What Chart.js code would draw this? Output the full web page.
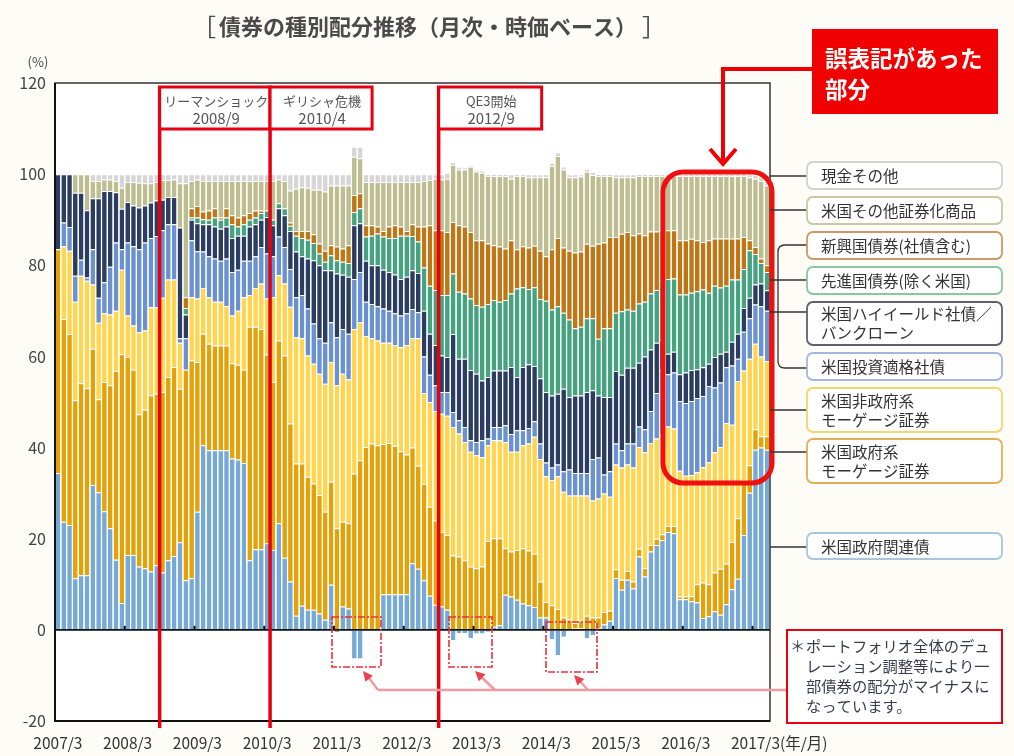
<!DOCTYPE html>
<html lang="ja">
<head>
<meta charset="utf-8">
<title>債券の種別配分推移</title>
<script src="https://cdn.jsdelivr.net/npm/chart.js@4.4.1/dist/chart.umd.min.js"></script>
<style>
  html, body { margin: 0; padding: 0; background: #fdfcf6; }
  canvas { display: block; }
</style>
</head>
<body>
<canvas id="bondChart" width="1014" height="756"></canvas>
<script>
    // 月次の横軸 (2007/3 〜 2017/5)
    const startYear = 2007;
    const startMonth = 3;
    const monthCount = 123;
    const months = [];
    for (let i = 0; i < monthCount; i++) {
      const m = startMonth - 1 + i;
      months.push((startYear + Math.floor(m / 12)) + '/' + (m % 12 + 1));
    }

    // 各資産の帯の上端 (%)、下から順に積み上げた値を図から読み取ったもの
    // 米国政府関連債
    const topGovRelated = [
      34.4, 23.7, 23.0, 11.3, 12.0, 12.0, 31.8, 30.2, 26.0, 22.3,
      15.4, 5.9, 16.4, 16.4, 13.9, 13.5, 12.8, 14.2, 12.6, 15.3,
      16.2, 19.2, 10.9, 11.3, 25.9, 40.5, 39.4, 39.4, 39.4, 39.4,
      37.6, 37.4, 36.6, 15.3, 17.7, 17.7, 19.0, 17.5, 23.4, 15.8,
      10.6, 3.1, 5.3, 4.4, 4.4, 3.6, 2.2, 9.9, -0.5, 5.1,
      4.7, -6.3, -6.3, 0, 0, 0, 7.8, 7.8, 7.8, 7.8,
      7.8, 14.6, 13.4, 10.9, 7.5, 5.5, 5.1, 4.4, -2.2, -0.7,
      -0.7, -1.8, -0.8, -0.8, -0.4, 0.7, 1.0, 7.7, 7.3, 6.6,
      5.8, 5.4, 5.0, 2.7, 2.7, -2.0, -5.5, -1.5, 0, 0.3,
      0.3, -1.8, -1.2, 0.3, 1.2, 2.0, 11.4, 8.8, 11.0, 9.1,
      16.1, 11.7, 17.2, 18.6, 19.7, 21.5, 21.2, 6.7, 6.7, 6.3,
      6.0, 2.6, 3.0, 4.1, 3.3, 5.6, 8.9, 11.2, 20.8, 30.1,
      39.5, 40.0, 39.5
    ];
    // 米国政府系モーゲージ証券
    const topAgencyMbs = [
      83.5, 68.2, 64.9, 50.4, 54.1, 53.0, 61.7, 50.6, 54.4, 53.7,
      56.8, 60.5, 59.9, 57.1, 47.3, 48.3, 51.5, 51.8, 52.2, 55.5,
      57.7, 52.9, 57.1, 59.1, 58.8, 65.0, 62.8, 62.4, 62.4, 62.4,
      58.5, 58.2, 57.1, 66.5, 66.5, 66.0, 60.4, 54.4, 63.5, 60.2,
      45.3, 36.5, 36.5, 33.6, 32.1, 29.6, 25.9, 32.5, 22.3, 23.7,
      23.4, 34.3, 37.2, 40.1, 40.9, 40.5, 40.8, 41.0, 40.4, 39.2,
      38.5, 40.0, 36.0, 32.0, 27.0, 24.0, 21.5, 20.8, 16.3, 16.1,
      15.3, 13.9, 13.5, 13.9, 19.5, 20.1, 20.1, 17.9, 17.2, 17.5,
      17.9, 17.4, 16.7, 10.6, 6.1, 5.4, 4.6, 2.7, 2.3, 1.5,
      2.0, 3.1, 2.7, 2.7, 3.9, 4.2, 13.3, 11.0, 12.9, 10.6,
      17.8, 13.5, 18.6, 20.0, 21.0, 22.8, 22.8, 7.3, 7.4, 7.4,
      10.0, 10.4, 10.0, 12.6, 13.4, 14.5, 19.3, 24.5, 32.7, 36.1,
      44.0, 42.5, 42.5
    ];
    // 米国非政府系モーゲージ証券
    const topNonAgencyMbs = [
      83.5, 84.2, 83.2, 72.0, 77.7, 76.6, 75.8, 67.4, 69.5, 69.2,
      70.0, 79.0, 69.0, 66.8, 65.3, 65.7, 70.8, 70.8, 72.9, 76.9,
      76.9, 63.0, 57.1, 73.0, 72.7, 75.0, 73.0, 72.0, 72.0, 71.0,
      69.0, 70.0, 73.0, 73.5, 75.0, 76.0, 72.7, 73.0, 77.8, 76.0,
      70.9, 64.2, 64.0, 60.2, 58.4, 56.2, 54.0, 58.8, 53.7, 56.2,
      55.0, 66.0, 67.5, 64.5, 64.0, 63.5, 63.0, 63.0, 62.5, 62.0,
      62.5, 64.0, 64.0, 52.0, 50.0, 48.0, 47.4, 47.0, 44.5, 43.1,
      41.2, 39.1, 38.3, 37.9, 40.5, 41.6, 41.6, 41.2, 39.1, 39.1,
      40.5, 40.9, 42.4, 37.5, 33.7, 32.9, 33.7, 30.3, 29.5, 29.5,
      29.5, 29.5, 28.4, 28.8, 29.9, 29.2, 36.3, 35.6, 36.3, 35.6,
      40.1, 39.0, 41.0, 42.0, 43.0, 44.6, 44.2, 34.9, 33.8, 34.0,
      34.6, 35.7, 36.8, 39.0, 40.1, 45.4, 45.0, 54.6, 56.9, 59.5,
      62.8, 60.0, 59.0
    ];
    // 米国投資適格社債
    const topIgCorp = [
      83.5, 89.4, 88.4, 77.7, 81.2, 77.3, 83.5, 72.9, 76.3, 79.7,
      85.0, 83.5, 85.0, 84.2, 83.5, 85.0, 86.0, 86.4, 87.7, 89.0,
      89.0, 64.0, 64.0, 85.5, 83.1, 83.0, 82.0, 81.5, 81.0, 81.5,
      78.5, 79.0, 81.0, 81.0, 82.0, 84.0, 82.6, 82.0, 86.3, 84.0,
      79.2, 73.0, 73.5, 70.5, 67.2, 64.0, 63.0, 67.5, 64.2, 66.0,
      65.0, 77.0, 78.5, 72.0, 71.5, 71.0, 70.5, 70.0, 69.5, 69.0,
      69.5, 70.4, 69.7, 60.0, 56.0, 53.7, 52.2, 52.2, 47.8, 46.0,
      44.5, 41.6, 41.2, 41.6, 42.0, 44.5, 44.5, 44.9, 43.0, 43.8,
      43.8, 44.3, 45.8, 40.9, 36.7, 35.6, 36.3, 34.8, 35.2, 34.4,
      34.4, 34.4, 37.5, 37.8, 34.1, 34.8, 40.9, 39.4, 40.9, 40.9,
      44.6, 44.0, 48.0, 52.0, 57.0, 56.1, 56.5, 50.2, 49.8, 50.2,
      50.9, 51.3, 53.5, 53.2, 54.3, 57.6, 58.0, 59.5, 65.4, 68.4,
      71.4, 71.0, 70.0
    ];
    // 米国ハイイールド社債／バンクローン
    const topHighYield = [
      100, 100, 100, 95.9, 95.9, 92.1, 94.7, 94.7, 96.3, 96.3,
      96.0, 92.4, 93.9, 93.1, 92.7, 93.1, 93.8, 94.2, 94.4, 95.0,
      95.0, 88.3, 69.2, 90.0, 89.2, 89.0, 89.0, 88.5, 88.0, 88.5,
      86.0, 86.5, 86.5, 88.5, 89.0, 90.0, 90.6, 88.8, 92.5, 91.0,
      87.5, 83.0, 82.0, 81.5, 81.1, 80.0, 78.9, 78.9, 78.2, 77.9,
      77.5, 88.8, 89.2, 81.0, 80.0, 80.0, 79.0, 78.5, 78.0, 77.0,
      77.5, 78.9, 78.3, 70.0, 65.0, 62.5, 60.2, 59.9, 64.9, 59.5,
      59.5, 57.0, 56.2, 54.7, 55.5, 56.9, 56.9, 56.9, 57.7, 55.5,
      57.7, 58.3, 57.9, 55.2, 52.2, 51.4, 51.8, 52.9, 51.1, 51.4,
      51.4, 52.2, 52.6, 51.4, 51.1, 51.1, 56.8, 56.0, 57.5, 57.5,
      58.6, 60.0, 61.5, 63.0, 63.5, 60.6, 61.0, 56.1, 56.5, 57.0,
      57.2, 57.6, 58.4, 59.9, 60.6, 61.0, 63.2, 65.0, 70.6, 72.9,
      75.8, 76.0, 74.5
    ];
    // 先進国債券(除く米国)
    const topDeveloped = [
      100, 100, 100, 95.9, 95.9, 92.1, 94.7, 94.7, 96.3, 96.3,
      96.0, 92.4, 93.9, 93.1, 92.7, 93.1, 93.8, 94.2, 94.4, 95.0,
      95.0, 88.3, 70.6, 90.5, 90.5, 90.1, 90.0, 90.5, 90.0, 90.5,
      89.0, 88.5, 89.0, 90.0, 90.5, 91.5, 92.0, 90.0, 93.6, 92.5,
      88.7, 86.5, 86.0, 85.6, 84.9, 82.6, 80.8, 82.2, 81.1, 80.8,
      80.5, 91.7, 92.5, 86.3, 86.5, 87.0, 86.3, 86.0, 86.0, 86.5,
      86.5, 86.4, 85.2, 79.5, 75.5, 74.6, 73.5, 73.5, 78.2, 74.2,
      73.8, 72.7, 71.3, 70.9, 71.5, 72.4, 72.0, 72.4, 73.8, 74.9,
      75.2, 74.8, 75.2, 72.6, 72.2, 70.3, 71.0, 69.6, 68.1, 66.2,
      66.5, 68.4, 68.4, 63.9, 66.2, 66.2, 69.6, 69.9, 70.3, 70.0,
      71.6, 72.0, 73.8, 74.6, 76.8, 77.0, 77.1, 73.6, 73.6, 74.0,
      74.3, 74.7, 74.0, 75.5, 75.1, 75.5, 76.9, 76.9, 79.2, 83.3,
      82.5, 80.5, 78.5
    ];
    // 新興国債券(社債含む)
    const topEmerging = [
      100, 100, 100, 95.9, 95.9, 92.1, 94.7, 94.7, 96.3, 96.3,
      96.0, 92.4, 93.9, 93.1, 92.7, 93.1, 93.8, 94.2, 94.4, 95.0,
      95.0, 88.3, 73.0, 92.5, 93.0, 91.8, 92.0, 92.5, 90.5, 92.5,
      91.0, 90.5, 91.0, 91.5, 92.0, 92.0, 92.0, 90.0, 93.6, 92.5,
      89.4, 87.5, 87.5, 87.5, 86.8, 84.8, 83.2, 84.4, 84.1, 83.7,
      84.4, 95.4, 95.8, 88.8, 88.8, 88.5, 87.5, 88.5, 88.8, 88.5,
      87.5, 89.0, 88.5, 88.5, 88.8, 87.7, 87.7, 87.3, 89.5, 88.8,
      88.5, 87.3, 85.5, 85.5, 84.8, 84.4, 84.1, 83.7, 85.5, 83.5,
      84.2, 83.9, 84.3, 83.2, 82.0, 83.5, 86.0, 83.9, 83.2, 82.8,
      83.0, 84.7, 84.3, 84.7, 85.0, 86.2, 86.2, 86.9, 87.3, 86.6,
      87.0, 86.6, 87.4, 87.4, 87.7, 87.7, 87.7, 85.5, 85.5, 85.8,
      85.5, 85.1, 85.5, 85.9, 85.9, 85.9, 85.9, 85.9, 86.2, 85.5,
      84.0, 81.5, 80.0
    ];
    // 米国その他証券化商品
    const topOtherAbs = [
      100, 100, 100, 100, 100, 100, 98.5, 98.5, 98.8, 98.8,
      98.5, 97.0, 98.3, 98.3, 98.1, 98.0, 98.0, 98.3, 98.7, 98.7,
      98.8, 98.0, 98.0, 98.5, 98.8, 98.5, 98.5, 98.5, 98.5, 98.5,
      98.5, 98.5, 98.5, 98.5, 98.5, 98.5, 98.5, 98.5, 98.8, 98.5,
      96.4, 96.8, 97.1, 97.0, 96.6, 96.6, 96.2, 97.5, 97.5, 97.5,
      97.5, 103.8, 103.5, 98.3, 98.3, 98.3, 98.3, 98.3, 98.3, 98.3,
      98.3, 98.3, 98.3, 98.5, 98.7, 99.0, 98.8, 99.0, 102.0, 101.0,
      101.0, 101.6, 100.6, 100.3, 99.6, 99.6, 99.6, 99.6, 99.0, 99.6,
      99.6, 99.3, 99.3, 99.3, 99.3, 101.8, 104.0, 101.0, 99.3, 99.3,
      99.5, 100.5, 99.8, 99.6, 99.6, 99.6, 99.3, 99.3, 99.3, 99.3,
      99.6, 99.6, 99.6, 99.6, 99.6, 99.6, 99.6, 99.6, 99.6, 99.6,
      99.6, 99.6, 99.6, 99.6, 99.6, 99.6, 99.6, 99.6, 99.6, 99.3,
      99.0, 98.5, 97.5
    ];
    // 現金その他
    const topCash = [
      100, 100, 100, 100, 100, 100, 100, 100, 100, 100,
      100, 100, 100, 100, 100, 100, 100, 100, 100, 100,
      100, 100, 100, 100, 100, 100, 100, 100, 100, 100,
      100, 100, 100, 100, 100, 100, 100, 100, 100, 100,
      100, 100, 100, 100, 100, 100, 100, 100, 100, 100,
      100, 106, 106, 100, 100, 100, 100, 100, 100, 100,
      100, 100, 100, 100, 100, 100, 100, 100.3, 102.6, 101.6,
      101.5, 102.0, 101.0, 100.8, 100, 100, 100, 100, 100, 100,
      100, 100, 100, 100, 100, 102.5, 104.8, 101.7, 100, 100,
      100, 101.2, 100.5, 100, 100, 100, 100, 100, 100, 100,
      100, 100, 100, 100, 100, 100, 100, 100, 100, 100,
      100, 100, 100, 100, 100, 100, 100, 100, 100, 100,
      99.8, 99.5, 98.5
    ];

    // 出来事の注記
    const eventMonths = ['2008/9', '2010/4', '2012/9'];
    const eventNames = ['リーマンショック', 'ギリシャ危機', 'QE3開始'];

    // 帯の定義 (下から上へ)
    const layers = [
      { label: '米国政府関連債', top: topGovRelated, color: '#76a9d5' },
      { label: '米国政府系モーゲージ証券', top: topAgencyMbs, color: '#e2a208' },
      { label: '米国非政府系モーゲージ証券', top: topNonAgencyMbs, color: '#ffd44e' },
      { label: '米国投資適格社債', top: topIgCorp, color: '#6b92d0' },
      { label: '米国ハイイールド社債／バンクローン', top: topHighYield, color: '#2c3d62' },
      { label: '先進国債券(除く米国)', top: topDeveloped, color: '#46a37f' },
      { label: '新興国債券(社債含む)', top: topEmerging, color: '#bf7614' },
      { label: '米国その他証券化商品', top: topOtherAbs, color: '#bdbd90' },
      { label: '現金その他', top: topCash, color: '#d6d6d6' }
    ];

    const datasets = layers.map((layer, k) => ({
      label: layer.label,
      data: layer.top.map((hi, i) => {
        const lo = k === 0 ? 0 : Math.max(0, layers[k - 1].top[i]);
        return [lo, hi];
      }),
      backgroundColor: layer.color,
      borderColor: 'rgba(255,255,255,0.6)',
      borderWidth: { top: 1, bottom: 0, left: 0, right: 0 },
      borderSkipped: false,
      grouped: false,
      barPercentage: 0.8,
      categoryPercentage: 1.0
    }));

    function roundRect(ctx, x, y, w, h, r) {
      ctx.beginPath();
      ctx.moveTo(x + r, y);
      ctx.arcTo(x + w, y, x + w, y + h, r);
      ctx.arcTo(x + w, y + h, x, y + h, r);
      ctx.arcTo(x, y + h, x, y, r);
      ctx.arcTo(x, y, x + w, y, r);
      ctx.closePath();
    }

    function line(ctx, x1, y1, x2, y2) {
      ctx.beginPath();
      ctx.moveTo(x1, y1);
      ctx.lineTo(x2, y2);
      ctx.stroke();
    }

    function arrowHead(ctx, fromX, fromY, toX, toY, size) {
      const ang = Math.atan2(toY - fromY, toX - fromX);
      ctx.beginPath();
      ctx.moveTo(toX, toY);
      ctx.lineTo(toX - size * Math.cos(ang - 0.45), toY - size * Math.sin(ang - 0.45));
      ctx.lineTo(toX - size * Math.cos(ang + 0.45), toY - size * Math.sin(ang + 0.45));
      ctx.closePath();
      ctx.fill();
    }

    const JP = "'Noto Sans CJK JP', 'Noto Sans', sans-serif";

    // 背景、枠、注記など
    const decorPlugin = {
      id: 'decor',
      beforeDraw(chart) {
        const { ctx, chartArea: a } = chart;
        ctx.save();
        ctx.fillStyle = '#fdfcf6';
        ctx.fillRect(0, 0, chart.width, chart.height);
        ctx.fillStyle = '#ffffff';
        ctx.fillRect(a.left, a.top, a.right - a.left, a.bottom - a.top);
        ctx.restore();
      },
      afterDraw(chart) {
        const { ctx, chartArea: a, scales } = chart;
        const xs = scales.x, ys = scales.y;
        const step = xs.getPixelForValue(1) - xs.getPixelForValue(0);
        const edge = i => xs.getPixelForValue(i) - step / 2;
        const y0 = ys.getPixelForValue(0);
        ctx.save();

        // プロット枠
        ctx.strokeStyle = '#333';
        ctx.lineWidth = 1.5;
        ctx.strokeRect(a.left, a.top, a.right - a.left, a.bottom - a.top);
        ctx.strokeStyle = '#111';
        ctx.lineWidth = 2;
        ctx.beginPath();
        ctx.moveTo(a.left, a.top);
        ctx.lineTo(a.left, a.bottom);
        ctx.lineTo(a.right, a.bottom);
        ctx.stroke();

        // 0%の線と3月の目盛り
        ctx.lineWidth = 1.6;
        line(ctx, a.left, y0, a.right, y0);
        ctx.lineWidth = 2;
        for (let i = 12; i < months.length; i += 12) {
          line(ctx, edge(i), y0, edge(i), y0 - 4);
        }

        // タイトル
        ctx.fillStyle = '#4a4a4a';
        ctx.textBaseline = 'middle';
        ctx.textAlign = 'center';
        ctx.font = 'bold 22px ' + JP;
        ctx.fillText('債券の種別配分推移（月次・時価ベース）', 428, 27);
        ctx.font = '24px ' + JP;
        ctx.fillText('［', 204, 27);
        ctx.fillText('］', 654, 27);

        ctx.font = '13px ' + JP;
        ctx.fillStyle = '#444';
        ctx.fillText('(%)', 38, 62);

        // (年/月)
        ctx.font = '15.5px ' + JP;
        ctx.fillStyle = '#333';
        ctx.textAlign = 'left';
        const lastTick = 120;
        const w2017 = ctx.measureText(months[lastTick]).width;
        ctx.fillText('(年/月)', xs.getPixelForValue(lastTick) + w2017 / 2, a.bottom + 22);

        // 出来事の縦線と枠
        const boxW = [111, 102, 103];
        ctx.strokeStyle = '#e60012';
        eventMonths.forEach((m, k) => {
          const xl = edge(months.indexOf(m));
          ctx.lineWidth = 3.5;
          line(ctx, xl, 86, xl, a.bottom + 7);
          ctx.lineWidth = 3;
          ctx.fillStyle = '#ffffff';
          ctx.fillRect(xl, 87, boxW[k], 42);
          ctx.strokeRect(xl, 87, boxW[k], 42);
          ctx.fillStyle = '#555';
          ctx.textAlign = 'center';
          ctx.font = '13px ' + JP;
          ctx.fillText(eventNames[k], xl + boxW[k] / 2 + 1, 101);
          ctx.font = '15px ' + JP;
          ctx.fillText(m, xl + boxW[k] / 2 + 1, 118);
        });

        // 誤表記の強調枠
        ctx.strokeStyle = '#f01010';
        ctx.lineWidth = 5;
        roundRect(ctx, 663, 172, 109, 311, 20);
        ctx.stroke();

        // 吹き出しと矢印
        ctx.fillStyle = '#f00000';
        ctx.fillRect(812, 29, 186, 85);
        ctx.fillStyle = '#ffffff';
        ctx.textAlign = 'left';
        ctx.font = 'bold 22.5px ' + JP;
        ctx.fillText('誤表記があった', 825, 58);
        ctx.fillText('部分', 825, 89);
        ctx.strokeStyle = '#f00000';
        ctx.lineWidth = 4;
        ctx.lineJoin = 'miter';
        ctx.beginPath();
        ctx.moveTo(812, 69);
        ctx.lineTo(723, 69);
        ctx.lineTo(723, 164);
        ctx.stroke();
        ctx.beginPath();
        ctx.moveTo(710, 149);
        ctx.lineTo(723, 164);
        ctx.lineTo(736, 149);
        ctx.stroke();

        // 凡例の枠と引き出し線
        const legendBoxes = [
          { text: ['現金その他'], y0: 162, y1: 189, border: '#d2d2d2', lineY: 176 },
          { text: ['米国その他証券化商品'], y0: 197, y1: 224, border: '#c9c8a2', lineY: 210 },
          { text: ['新興国債券(社債含む)'], y0: 232, y1: 259, border: '#cc9a66', lineY: null },
          { text: ['先進国債券(除く米国)'], y0: 267, y1: 294, border: '#88c6a6', lineY: 280 },
          { text: ['米国ハイイールド社債／', 'バンクローン'], y0: 302, y1: 345, border: '#5c6272', lineY: 312 },
          { text: ['米国投資適格社債'], y0: 353, y1: 380, border: '#a4b6e0', lineY: null },
          { text: ['米国非政府系', 'モーゲージ証券'], y0: 388, y1: 432, border: '#f4d46e', lineY: 410 },
          { text: ['米国政府系', 'モーゲージ証券'], y0: 439, y1: 483, border: '#e4ae58', lineY: 452 },
          { text: ['米国政府関連債'], y0: 533, y1: 559, border: '#a9c6e0', lineY: 547 }
        ];
        ctx.strokeStyle = '#333';
        ctx.lineWidth = 1.3;
        legendBoxes.forEach(b => {
          if (b.lineY !== null) line(ctx, a.right, b.lineY, 807, b.lineY);
        });
        ctx.beginPath();
        ctx.moveTo(807, 245);
        ctx.lineTo(785, 245);
        ctx.quadraticCurveTo(778, 245, 778, 252);
        ctx.lineTo(778, 361);
        ctx.quadraticCurveTo(778, 368, 785, 368);
        ctx.lineTo(807, 368);
        ctx.stroke();

        ctx.font = '15.5px ' + JP;
        ctx.textAlign = 'left';
        legendBoxes.forEach(b => {
          ctx.fillStyle = '#ffffff';
          ctx.strokeStyle = b.border;
          ctx.lineWidth = 1.8;
          roundRect(ctx, 807, b.y0, 195, b.y1 - b.y0, 6);
          ctx.fill();
          ctx.stroke();
          ctx.fillStyle = '#333';
          const mid = (b.y0 + b.y1) / 2;
          if (b.text.length === 1) {
            ctx.fillText(b.text[0], 821, mid + 1);
          } else {
            ctx.fillText(b.text[0], 821, mid - 9);
            ctx.fillText(b.text[1], 821, mid + 10);
          }
        });

        // マイナス配分の点線枠と矢印
        ctx.strokeStyle = '#e8303a';
        ctx.lineWidth = 1.6;
        ctx.setLineDash([7, 2, 2, 2]);
        ctx.strokeRect(332, 617, 49, 50);
        ctx.strokeRect(449, 617, 43, 50);
        ctx.strokeRect(546, 622, 51, 50);
        ctx.setLineDash([]);

        ctx.strokeStyle = '#f29aa2';
        ctx.lineWidth = 2.5;
        line(ctx, 378, 690, 787, 690);
        const diag = [[378, 690, 363, 671], [495, 690, 475, 671], [588, 690, 574, 675]];
        ctx.fillStyle = '#e8424e';
        diag.forEach(d => {
          line(ctx, d[0], d[1], d[2] + 3, d[3] + 3);
          arrowHead(ctx, d[0], d[1], d[2], d[3], 11);
        });

        // 注記の枠
        ctx.fillStyle = '#ffffff';
        ctx.fillRect(787, 630, 215, 93);
        ctx.strokeStyle = '#e60012';
        ctx.lineWidth = 2;
        ctx.strokeRect(787, 630, 215, 93);
        ctx.fillStyle = '#3b3b50';
        ctx.font = '15.3px ' + JP;
        ctx.fillText('＊', 790, 646);
        ctx.fillText('ポートフォリオ全体のデュ', 806, 646);
        ctx.fillText('レーション調整等により一', 806, 666);
        ctx.fillText('部債券の配分がマイナスに', 806, 686);
        ctx.fillText('なっています。', 806, 706);

        ctx.restore();
      }
    };

    function createChart() {
      const ctx = document.getElementById('bondChart').getContext('2d');
      new Chart(ctx, {
        type: 'bar',
        data: { labels: months, datasets: datasets },
        options: {
          responsive: false,
          animation: false,
          devicePixelRatio: 1,
          events: [],
          layout: { padding: { top: 83, right: 244, bottom: 0, left: 0 } },
          plugins: {
            legend: { display: false },
            tooltip: { enabled: false }
          },
          scales: {
            x: {
              type: 'category',
              grid: { display: false, drawTicks: false },
              border: { display: false },
              ticks: {
                autoSkip: false,
                maxRotation: 0,
                minRotation: 0,
                padding: 13,
                color: '#333',
                font: { family: JP, size: 15.5 },
                callback: (value, index) => (index % 12 === 0 ? months[index] : '')
              },
              afterFit: s => { s.height = 35; }
            },
            y: {
              min: -20,
              max: 120,
              grid: { display: false, drawTicks: false },
              border: { display: false },
              ticks: {
                stepSize: 20,
                padding: 9,
                color: '#444',
                font: { family: JP, size: 16 }
              },
              afterFit: s => { s.width = 55; }
            }
          }
        },
        plugins: [decorPlugin]
      });
    }

    document.addEventListener('DOMContentLoaded', function () {
      createChart();
    });
</script>
</body>
</html>
